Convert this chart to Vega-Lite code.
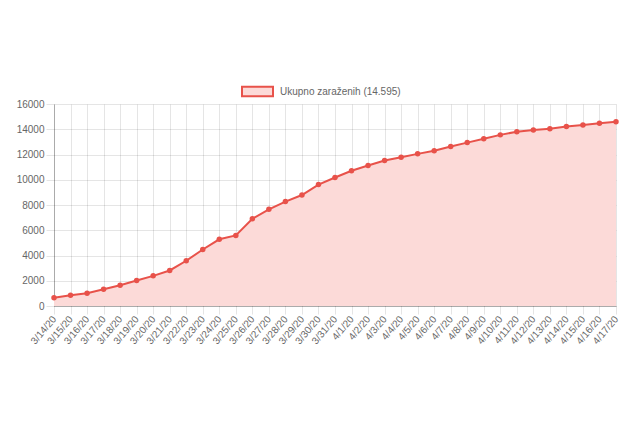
{
  "$schema": "https://vega.github.io/schema/vega-lite/v6.json",
  "autosize": "none",
  "width": 562,
  "height": 202,
  "padding": {"left": 54, "top": 104, "right": 16, "bottom": 115},
  "background": "white",
  "config": {
    "font": "Liberation Sans",
    "view": {"stroke": null},
    "axis": {
      "labelFont": "Liberation Sans",
      "labelFontSize": 10,
      "labelColor": "#666666",
      "gridColor": "#000000",
      "gridOpacity": 0.1,
      "domainColor": "#000000",
      "domainOpacity": 0.25,
      "tickColor": "#000000",
      "tickOpacity": 0.1,
      "tickSize": 8,
      "title": null
    }
  },
  "data": {
    "values": [
      {"date": "3/14/20", "total": 655},
      {"date": "3/15/20", "total": 860},
      {"date": "3/16/20", "total": 1018},
      {"date": "3/17/20", "total": 1332},
      {"date": "3/18/20", "total": 1646},
      {"date": "3/19/20", "total": 2013},
      {"date": "3/20/20", "total": 2388},
      {"date": "3/21/20", "total": 2814},
      {"date": "3/22/20", "total": 3582},
      {"date": "3/23/20", "total": 4474},
      {"date": "3/24/20", "total": 5283},
      {"date": "3/25/20", "total": 5588},
      {"date": "3/26/20", "total": 6909},
      {"date": "3/27/20", "total": 7657},
      {"date": "3/28/20", "total": 8271},
      {"date": "3/29/20", "total": 8788},
      {"date": "3/30/20", "total": 9618},
      {"date": "3/31/20", "total": 10180},
      {"date": "4/1/20", "total": 10711},
      {"date": "4/2/20", "total": 11129},
      {"date": "4/3/20", "total": 11524},
      {"date": "4/4/20", "total": 11781},
      {"date": "4/5/20", "total": 12051},
      {"date": "4/6/20", "total": 12297},
      {"date": "4/7/20", "total": 12639},
      {"date": "4/8/20", "total": 12942},
      {"date": "4/9/20", "total": 13244},
      {"date": "4/10/20", "total": 13555},
      {"date": "4/11/20", "total": 13806},
      {"date": "4/12/20", "total": 13945},
      {"date": "4/13/20", "total": 14041},
      {"date": "4/14/20", "total": 14226},
      {"date": "4/15/20", "total": 14336},
      {"date": "4/16/20", "total": 14476},
      {"date": "4/17/20", "total": 14595}
    ]
  },
  "encoding": {
    "x": {
      "field": "date",
      "type": "ordinal",
      "sort": null,
      "scale": {"type": "point", "padding": 0},
      "axis": {
        "labelAngle": -50,
        "labelAlign": "right",
        "labelBaseline": "middle",
        "labelPadding": 3,
        "grid": true
      }
    },
    "y": {
      "field": "total",
      "type": "quantitative",
      "scale": {"domain": [0, 16000], "nice": false},
      "axis": {"values": [0, 2000, 4000, 6000, 8000, 10000, 12000, 14000, 16000], "labelPadding": 2, "format": "d"}
    }
  },
  "layer": [
    {
      "mark": {"type": "area", "opacity": 1},
      "encoding": {
        "fill": {
          "datum": "Ukupno zaraženih (14.595)",
          "type": "nominal",
          "scale": {"range": ["#fcdad8"]},
          "legend": {
            "orient": "none",
            "legendX": 187,
            "legendY": -29,
            "title": null,
            "symbolType": "M-1,-0.3H1V0.3H-1Z",
            "symbolSize": 961,
            "symbolStrokeColor": "#e8524a",
            "symbolStrokeWidth": 2,
            "labelFont": "Liberation Sans",
            "labelFontSize": 10,
            "labelColor": "#666666",
            "labelOffset": 6,
            "encode": {
              "symbols": {
                "enter": {"stroke": {"value": "#e8524a"}, "strokeWidth": {"value": 2}},
                "update": {"stroke": {"value": "#e8524a"}, "strokeWidth": {"value": 2}, "fill": {"value": "#fcdad8"}, "opacity": {"value": 1}}
              }
            }
          }
        }
      }
    },
    {
      "mark": {"type": "line", "color": "#e8524a", "strokeWidth": 2}
    },
    {
      "mark": {"type": "point", "filled": true, "color": "#e8524a", "size": 30, "opacity": 1}
    }
  ]
}
